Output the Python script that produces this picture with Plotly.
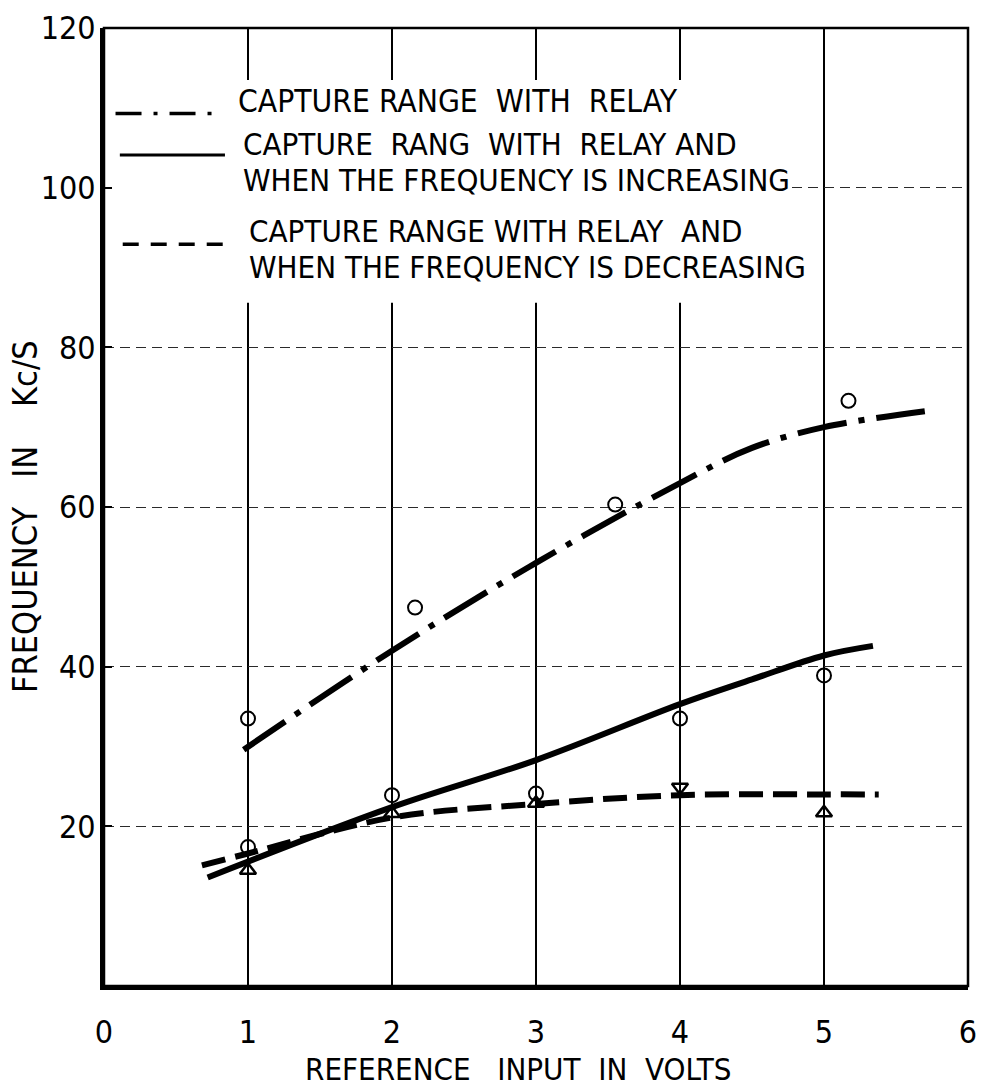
import plotly.graph_objects as go

# ---- data -------------------------------------------------------------
# Smoothed response curves (reference input in volts -> frequency in kc/s)
relay_x = [0.97, 2.0, 3.0, 4.0, 4.5, 5.0, 5.7]
relay_y = [29.6, 42.0, 53.0, 63.0, 67.4, 70.0, 72.0]

incr_x = [0.72, 2.0, 3.0, 4.0, 4.5, 5.0, 5.34]
incr_y = [13.6, 22.4, 28.3, 35.3, 38.4, 41.4, 42.6]

decr_x = [0.68, 1.0, 2.0, 3.0, 4.0, 5.0, 5.38]
decr_y = [15.1, 16.6, 21.1, 22.8, 23.9, 24.0, 24.0]

# Measured points
relay_pts_x = [1.0, 2.16, 3.55, 5.17]
relay_pts_y = [33.5, 47.4, 60.3, 73.3]

incr_pts_x = [1.0, 2.0, 3.0, 4.0, 5.0]
incr_pts_y = [17.4, 23.9, 24.1, 33.5, 38.9]

decr_up_x = [1.0, 2.0, 3.0, 5.0]
decr_up_y = [14.5, 21.6, 22.9, 21.7]
decr_down_x = [4.0]
decr_down_y = [24.9]

x_ticks = [0, 1, 2, 3, 4, 5, 6]
y_ticks = [20, 40, 60, 80, 100, 120]

legend_rows = [
    ["CAPTURE RANGE  WITH  RELAY"],
    ["CAPTURE  RANG  WITH  RELAY AND", "WHEN THE FREQUENCY IS INCREASING"],
    ["CAPTURE RANGE WITH RELAY  AND", "WHEN THE FREQUENCY IS DECREASING"],
]

FONT = "DejaVu Sans Condensed, DejaVu Sans, sans-serif"
INK = "black"

fig = go.Figure()

# ---- curves -----------------------------------------------------------
fig.add_trace(go.Scatter(x=relay_x, y=relay_y, mode="lines",
                         line=dict(color=INK, width=6, shape="spline",
                                   dash="50px,12px,6px,12px")))
fig.add_trace(go.Scatter(x=incr_x, y=incr_y, mode="lines",
                         line=dict(color=INK, width=6, shape="spline")))
fig.add_trace(go.Scatter(x=decr_x, y=decr_y, mode="lines",
                         line=dict(color=INK, width=6, shape="spline",
                                   dash="24px,10px")))

# ---- measured points --------------------------------------------------
circ = dict(symbol="circle-open", size=14, color=INK, line=dict(width=2, color=INK))
fig.add_trace(go.Scatter(x=relay_pts_x, y=relay_pts_y, mode="markers", marker=circ))
fig.add_trace(go.Scatter(x=incr_pts_x, y=incr_pts_y, mode="markers", marker=circ))
fig.add_trace(go.Scatter(x=decr_up_x, y=decr_up_y, mode="markers",
                         marker=dict(symbol="triangle-up-open", size=14, color=INK,
                                     line=dict(width=2.5, color=INK))))
fig.add_trace(go.Scatter(x=decr_down_x, y=decr_down_y, mode="markers",
                         marker=dict(symbol="triangle-down-open", size=14, color=INK,
                                     line=dict(width=2.5, color=INK))))

# ---- key box ----------------------------------------------------------
shapes = [
    # blank panel behind the key (hides grid)
    dict(type="rect", xref="x", yref="y", x0=0.05, x1=4.75, y0=85.6, y1=113.5,
         fillcolor="white", line=dict(width=0), layer="between"),
    # thin frame on top / right
    dict(type="rect", xref="x domain", yref="y domain", x0=0, x1=1, y0=0, y1=1,
         line=dict(color=INK, width=2.5), layer="above"),
    # key samples
    dict(type="line", xref="x", yref="y", x0=0.08, x1=0.83, y0=109.3, y1=109.3,
         line=dict(color=INK, width=3.5, dash="26px,12px,4px,12px")),
    dict(type="line", xref="x", yref="y", x0=0.11, x1=0.84, y0=104.1, y1=104.1,
         line=dict(color=INK, width=3)),
    dict(type="line", xref="x", yref="y", x0=0.13, x1=0.89, y0=92.9, y1=92.9,
         line=dict(color=INK, width=3.5, dash="16px,12px")),
]

annotations = []
key_x = [0.92, 0.95, 0.99]
key_y = [[110.9], [105.5, 101.0], [94.6, 90.1]]
key_size = [31.5, 31, 31]
for row, xs, ys, fs in zip(legend_rows, key_x, key_y, key_size):
    for txt, yy in zip(row, ys):
        annotations.append(dict(x=xs, y=yy, xref="x", yref="y", text=txt,
                                showarrow=False, xanchor="left", yanchor="middle",
                                font=dict(family=FONT, size=fs, color=INK)))

# axis titles
annotations.append(dict(x=0.48, y=-0.0865, xref="paper", yref="paper",
                        text="REFERENCE   INPUT  IN  VOLTS", showarrow=False,
                        xanchor="center", yanchor="middle",
                        font=dict(family=FONT, size=31, color=INK)))
annotations.append(dict(x=-0.092, y=0.49, xref="paper", yref="paper",
                        text="FREQUENCY   IN    Kc/S", showarrow=False, textangle=-90,
                        xanchor="center", yanchor="middle",
                        font=dict(family=FONT, size=34, color=INK)))

fig.update_layout(
    width=984, height=1089,
    margin=dict(l=104, r=16, t=28, b=103),
    paper_bgcolor="white", plot_bgcolor="white",
    showlegend=False,
    shapes=shapes, annotations=annotations,
    font=dict(family=FONT, size=32, color=INK),
)

fig.update_xaxes(
    range=[0, 6], tickvals=x_ticks, ticktext=[str(v) for v in x_ticks],
    showgrid=True, gridcolor=INK, gridwidth=1.6,
    showline=True, linecolor=INK, linewidth=4,
    ticks="", ticklabelstandoff=15, zeroline=False, automargin=False,
    tickfont=dict(family=FONT, size=32, color=INK),
)
fig.update_yaxes(
    range=[0, 120], tickvals=y_ticks, ticktext=[str(v) for v in y_ticks],
    showgrid=True, gridcolor="#2a2a2a", gridwidth=1.3, griddash="10px,6px",
    showline=True, linecolor=INK, linewidth=4,
    ticks="inside", ticklen=8, tickwidth=2, tickcolor=INK,
    ticklabelstandoff=-2, zeroline=False, automargin=False,
    tickfont=dict(family=FONT, size=32, color=INK),
)

fig.write_html("out.html")
